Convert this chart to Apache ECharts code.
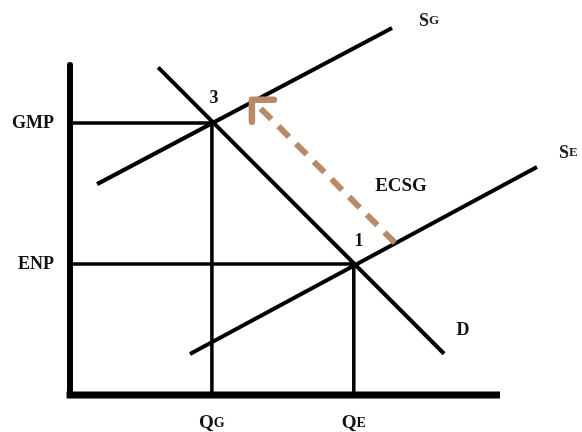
<!DOCTYPE html>
<html>
<head>
<meta charset="utf-8">
<script src="https://cdn.jsdelivr.net/npm/echarts@6/dist/echarts.min.js"></script>
<style>html,body{margin:0;padding:0;background:#fff}#c{width:582px;height:432px}</style>
</head>
<body>
<div id="c"></div>
<script>
// Quantity ticks (x) and price ticks (y), in chart units (axis line runs 0..100)
const qTicks = [33, 66];
const qLabels = ['{m|Q}{s|G}', '{m|Q}{s|E}'];
const pTicks = [39.7, 82.4];
const pLabels = ['ENP', 'GMP'];
// Curves
const demand = [[20.5, 99.3], [87, 12.5]];
const supplyG = [[6.3, 63.9], [74.9, 111.2]];
const supplyE = [[27.9, 12.4], [108.6, 69.1]];
// Shift arrow: tail on SE, head on SG
const shiftArrow = [[75.6, 46.1], [42.3, 89.5]];
// Horizontal axis extent
const xAxisExtent = [[-0.8, 0], [100, 0]];

const FONT = 'Liberation Serif';
const chart = echarts.init(document.getElementById('c'), null, {renderer: 'canvas'});

function lineSeries(data, w) {
  return {
    type: 'line', data: data, symbol: 'none', clip: false, silent: true,
    lineStyle: {color: '#000', width: w}, z: 3
  };
}
const guideG = [[0, pTicks[1]], [qTicks[0], pTicks[1]], [qTicks[0], 0]];
const guideE = [[0, pTicks[0]], [qTicks[1], pTicks[0]], [qTicks[1], 0]];

const subRich = {
  m: {fontFamily: FONT, fontWeight: 'bold', fontSize: 19, color: '#111'},
  s: {fontFamily: FONT, fontWeight: 'bold', fontSize: 14, color: '#111'}
};
const gRich = {
  m: {fontFamily: FONT, fontWeight: 'bold', fontSize: 18, fill: '#222'},
  s: {fontFamily: FONT, fontWeight: 'bold', fontSize: 13, fill: '#222'}
};

const option = {
  backgroundColor: '#fff',
  animation: false,
  grid: {left: 70, right: 0, top: 65, bottom: 37, outerBoundsMode: 'none', containLabel: false},
  xAxis: {
    type: 'value', min: 0, max: 119.07,
    splitLine: {show: false},
    axisLine: {show: false},
    axisTick: {show: false},
    axisLabel: {
      customValues: qTicks, margin: 19,
      formatter: function (v) { return qLabels[qTicks.indexOf(v)]; },
      rich: subRich
    }
  },
  yAxis: {
    type: 'value', min: 0, max: 100,
    splitLine: {show: false},
    axisLine: {lineStyle: {color: '#000', width: 6}},
    axisTick: {show: false},
    axisLabel: {
      customValues: pTicks, margin: 16,
      formatter: function (v) { return pLabels[pTicks.indexOf(v)]; },
      fontFamily: FONT, fontWeight: 'bold', fontSize: 18, color: '#111'
    }
  },
  series: [
    lineSeries(xAxisExtent, 7),
    lineSeries(guideG, 3.5),
    lineSeries(guideE, 3.5),
    lineSeries(demand, 4),
    lineSeries(supplyG, 4),
    lineSeries(supplyE, 4),
    {
      type: 'custom', clip: false, silent: true, z: 5,
      data: [shiftArrow[0].concat(shiftArrow[1])],
      renderItem: function (params, api) {
        const t = api.coord([api.value(0), api.value(1)]);
        const h = api.coord([api.value(2), api.value(3)]);
        const dx = t[0] - h[0], dy = t[1] - h[1];
        const len = Math.sqrt(dx * dx + dy * dy);
        const ux = dx / len, uy = dy / len;
        const L = 22, a = Math.PI / 4;
        const c = Math.cos(a), s = Math.sin(a);
        const a1 = [h[0] + L * (ux * c - uy * s), h[1] + L * (ux * s + uy * c)];
        const a2 = [h[0] + L * (ux * c + uy * s), h[1] + L * (-ux * s + uy * c)];
        const col = '#b98a6a';
        return {
          type: 'group', children: [
            {type: 'line', shape: {x1: t[0], y1: t[1], x2: h[0] + ux * 4, y2: h[1] + uy * 4},
             style: {stroke: col, lineWidth: 6, lineDash: [15, 10], lineDashOffset: 0}},
            {type: 'polyline', shape: {points: [a1, h, a2]},
             style: {stroke: col, lineWidth: 6.5, fill: null, lineJoin: 'round', lineCap: 'round'}}
          ]
        };
      }
    }
  ],
  graphic: [
    {type: 'text', x: 419, y: 21, style: {text: '{m|S}{s|G}', align: 'left', verticalAlign: 'middle', rich: gRich}},
    {type: 'text', x: 559, y: 153, style: {text: '{m|S}{s|E}', align: 'left', verticalAlign: 'middle', rich: gRich}},
    {type: 'text', x: 401, y: 186, style: {text: 'ECSG', align: 'center', verticalAlign: 'middle', font: 'bold 19px "Liberation Serif"', fill: '#111'}},
    {type: 'text', x: 463, y: 330, style: {text: 'D', align: 'center', verticalAlign: 'middle', font: 'bold 18px "Liberation Serif"', fill: '#111'}},
    {type: 'text', x: 214, y: 98, style: {text: '3', align: 'center', verticalAlign: 'middle', font: 'bold 18px "Liberation Serif"', fill: '#111'}},
    {type: 'text', x: 359, y: 241, style: {text: '1', align: 'center', verticalAlign: 'middle', font: 'bold 18px "Liberation Serif"', fill: '#111'}}
  ]
};
chart.setOption(option);
</script>
</body>
</html>
